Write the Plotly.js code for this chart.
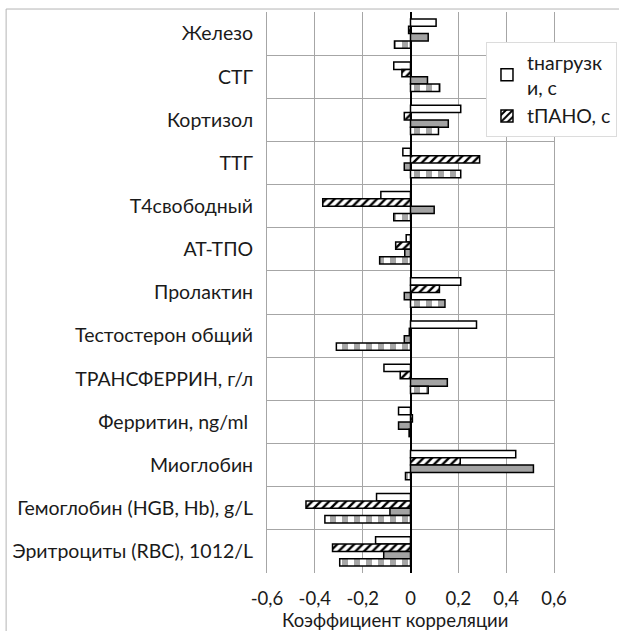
<!DOCTYPE html>
<html>
<head>
<meta charset="utf-8">
<script src="https://cdn.plot.ly/plotly-3.0.1.min.js"></script>
<style>html,body{margin:0;padding:0;background:#fff;}#chart{width:619px;height:631px;}</style>
</head>
<body>
<div id="chart"></div>
<script>
var categories = ["Железо","СТГ","Кортизол","ТТГ","Т4свободный","АТ-ТПО","Пролактин","Тестостерон общий","ТРАНСФЕРРИН, г/л","Ферритин, ng/ml ","Миоглобин","Гемоглобин (HGB, Hb), g/L","Эритроциты (RBC), 1012/L"];
var seriesNames = ["tнагрузк<br>и, с", "tПАНО, с", "серия 3", "серия 4"];
var tLoad   = [0.107, -0.070, 0.210, -0.032, -0.124, -0.018, 0.210, 0.276, -0.111, -0.050, 0.440, -0.142, -0.146];
var tPANO   = [-0.008, -0.036, -0.026, 0.289, -0.367, -0.062, 0.121, -0.005, -0.043, 0.008, 0.208, -0.437, -0.326];
var series3 = [0.074, 0.071, 0.158, -0.026, 0.099, -0.024, -0.026, -0.026, 0.154, -0.050, 0.514, -0.086, -0.112];
var series4 = [-0.067, 0.122, 0.117, 0.210, -0.070, -0.129, 0.144, -0.310, 0.074, -0.006, -0.021, -0.358, -0.296];
var xTickVals = [-0.6, -0.4, -0.2, 0, 0.2, 0.4, 0.6];
var xTickText = ["-0,6", "-0,4", "-0,2", "0", "0,2", "0,4", "0,6"];
var xTitle = "Коэффициент корреляции";

var FONT = "Lato, 'Open Sans', sans-serif";
var TXT = "#1a1a1a";
var line = {color: "#000", width: 1.5};

var traces = [
  {name: seriesNames[0], y: categories, x: tLoad, type: "bar", orientation: "h",
   marker: {color: "#fff", line: line}, showlegend: true},
  {name: seriesNames[1], y: categories, x: tPANO, type: "bar", orientation: "h",
   marker: {color: "#fff", line: line, pattern: {shape: "/", fgcolor: "#000", bgcolor: "#fff", size: 6, solidity: 0.4}}, showlegend: true},
  {name: seriesNames[2], y: categories, x: series3, type: "bar", orientation: "h",
   marker: {color: "#a3a3a3", line: line}, showlegend: false},
  {name: seriesNames[3], y: categories, x: series4, type: "bar", orientation: "h",
   marker: {color: "#fff", line: line, pattern: {shape: "|", fgcolor: "#a6a6a6", bgcolor: "#fff", size: 12, solidity: 0.5}}, showlegend: false}
];

var layout = {
  width: 619, height: 631,
  margin: {l: 267, r: 65, t: 12, b: 58, autoexpand: false},
  paper_bgcolor: "#fff", plot_bgcolor: "#fff",
  font: {family: FONT, size: 19.5, color: TXT},
  barmode: "group", bargap: 0.32, bargroupgap: 0,
  separators: ", ",
  xaxis: {
    range: [-0.6, 0.6], tickvals: xTickVals, ticktext: xTickText,
    showgrid: true, gridcolor: "#a6a6a6", gridwidth: 1,
    zeroline: true, zerolinecolor: "#000", zerolinewidth: 2,
    showline: false, ticks: "", ticklabelstandoff: 12, automargin: false,
    tickfont: {family: FONT, size: 18.5, color: TXT},
    fixedrange: true
  },
  yaxis: {
    type: "category", categoryorder: "array", categoryarray: categories,
    autorange: "reversed", tickson: "boundaries",
    showgrid: true, gridcolor: "#a6a6a6", gridwidth: 1,
    showline: true, linecolor: "#a6a6a6", linewidth: 1, mirror: true,
    ticks: "", ticklabelstandoff: 9, automargin: false,
    tickfont: {family: FONT, size: 19.5, color: TXT},
    fixedrange: true
  },
  legend: {
    x: 0.763, y: 0.9465, xanchor: "left", yanchor: "top",
    bgcolor: "#fff", bordercolor: "#dcdcdc", borderwidth: 1,
    font: {family: FONT, size: 19.5, color: TXT},
    traceorder: "normal", itemwidth: 30
  },
  annotations: [
    {text: xTitle, xref: "paper", yref: "paper", x: 0.446, y: -0.0838,
     xanchor: "center", yanchor: "middle", showarrow: false,
     font: {family: FONT, size: 18.5, color: TXT}}
  ],
  shapes: [
    {type: "rect", xref: "paper", yref: "paper", x0: -0.909, x1: 1.5, y0: -0.5, y1: 1.0053,
     line: {color: "#b4b4b4", width: 1}, fillcolor: "rgba(0,0,0,0)", layer: "below"}
  ]
};

Plotly.newPlot("chart", traces, layout, {displayModeBar: false, staticPlot: true});
</script>
</body>
</html>
